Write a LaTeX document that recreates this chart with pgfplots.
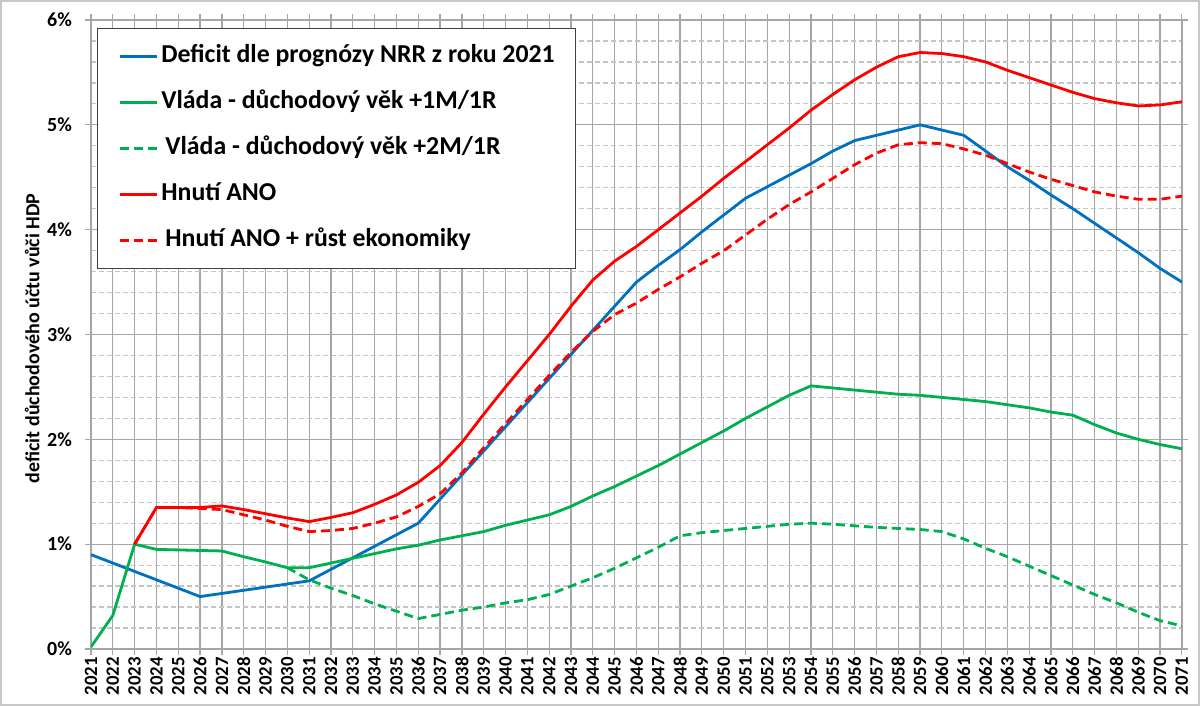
\documentclass[border=0pt]{standalone}
\usepackage{fontspec}
\setmainfont{Carlito}
\usepackage{pgfplots}
\pgfplotsset{compat=1.18}
\usepackage{pgfplotstable}
\definecolor{xblue}{RGB}{0,112,192}
\definecolor{xgreen}{RGB}{0,176,80}
\definecolor{xred}{RGB}{255,0,0}
\definecolor{gridc}{RGB}{166,166,166}
\definecolor{minc}{RGB}{196,196,196}
\definecolor{legc}{RGB}{64,64,64}
\definecolor{framec}{RGB}{200,200,200}

\pgfplotstableread{
year v
2021 0.90
2022 0.82
2023 0.74
2024 0.66
2025 0.58
2026 0.50
2027 0.53
2028 0.56
2029 0.59
2030 0.62
2031 0.65
2032 0.76
2033 0.87
2034 0.98
2035 1.09
2036 1.20
2037 1.43
2038 1.66
2039 1.89
2040 2.12
2041 2.35
2042 2.58
2043 2.81
2044 3.04
2045 3.27
2046 3.50
2047 3.66
2048 3.81
2049 3.98
2050 4.14
2051 4.30
2052 4.41
2053 4.52
2054 4.63
2055 4.75
2056 4.85
2057 4.90
2058 4.95
2059 5.00
2060 4.95
2061 4.90
2062 4.75
2063 4.60
2064 4.47
2065 4.33
2066 4.20
2067 4.06
2068 3.92
2069 3.78
2070 3.63
2071 3.50
}\nrr

\pgfplotstableread{
year v
2021 0.02
2022 0.32
2023 1.00
2024 0.95
2025 0.945
2026 0.94
2027 0.935
2028 0.88
2029 0.83
2030 0.775
2031 0.775
2032 0.82
2033 0.865
2034 0.91
2035 0.955
2036 0.99
2037 1.04
2038 1.08
2039 1.12
2040 1.18
2041 1.23
2042 1.28
2043 1.36
2044 1.46
2045 1.55
2046 1.65
2047 1.75
2048 1.86
2049 1.97
2050 2.08
2051 2.20
2052 2.31
2053 2.42
2054 2.51
2055 2.49
2056 2.47
2057 2.45
2058 2.43
2059 2.42
2060 2.40
2061 2.38
2062 2.36
2063 2.33
2064 2.30
2065 2.26
2066 2.23
2067 2.14
2068 2.06
2069 2.00
2070 1.95
2071 1.91
}\vladaA

\pgfplotstableread{
year v
2030 0.775
2031 0.66
2032 0.58
2033 0.51
2034 0.43
2035 0.36
2036 0.29
2037 0.33
2038 0.37
2039 0.40
2040 0.44
2041 0.47
2042 0.52
2043 0.60
2044 0.68
2045 0.77
2046 0.87
2047 0.97
2048 1.08
2049 1.11
2050 1.13
2051 1.15
2052 1.17
2053 1.19
2054 1.20
2055 1.19
2056 1.175
2057 1.16
2058 1.15
2059 1.14
2060 1.12
2061 1.05
2062 0.96
2063 0.88
2064 0.79
2065 0.70
2066 0.61
2067 0.52
2068 0.44
2069 0.35
2070 0.27
2071 0.22
}\vladaB

\pgfplotstableread{
year v
2023 1.00
2024 1.35
2025 1.35
2026 1.35
2027 1.365
2028 1.33
2029 1.29
2030 1.25
2031 1.215
2032 1.255
2033 1.30
2034 1.38
2035 1.47
2036 1.59
2037 1.75
2038 1.97
2039 2.24
2040 2.50
2041 2.75
2042 3.00
2043 3.27
2044 3.52
2045 3.70
2046 3.84
2047 4.00
2048 4.16
2049 4.32
2050 4.49
2051 4.65
2052 4.81
2053 4.97
2054 5.14
2055 5.29
2056 5.43
2057 5.55
2058 5.65
2059 5.69
2060 5.68
2061 5.65
2062 5.60
2063 5.52
2064 5.45
2065 5.38
2066 5.31
2067 5.25
2068 5.21
2069 5.18
2070 5.19
2071 5.22
}\anoA

\pgfplotstableread{
year v
2023 1.00
2024 1.35
2025 1.35
2026 1.34
2027 1.33
2028 1.28
2029 1.23
2030 1.17
2031 1.12
2032 1.13
2033 1.15
2034 1.20
2035 1.26
2036 1.36
2037 1.48
2038 1.68
2039 1.92
2040 2.15
2041 2.38
2042 2.61
2043 2.83
2044 3.03
2045 3.19
2046 3.30
2047 3.43
2048 3.55
2049 3.68
2050 3.80
2051 3.95
2052 4.10
2053 4.24
2054 4.36
2055 4.49
2056 4.62
2057 4.73
2058 4.81
2059 4.83
2060 4.82
2061 4.77
2062 4.71
2063 4.63
2064 4.55
2065 4.48
2066 4.42
2067 4.36
2068 4.32
2069 4.29
2070 4.29
2071 4.32
}\anoB

\begin{document}
\begin{tikzpicture}
\useasboundingbox (0,0) rectangle (600pt,353pt);
\draw[framec, line width=0.8pt] (0.6pt,0.6pt) rectangle (599.4pt,352.4pt);
\begin{axis}[
  at={(45.5pt,28.5pt)}, anchor=south west,
  scale only axis, width=545.5pt, height=314.5pt,
  xmin=2021, xmax=2071, ymin=0, ymax=6,
  xtick={2021,2022,...,2071},
  ytick={0,1,2,3,4,5,6},
  yticklabels={0\%,1\%,2\%,3\%,4\%,5\%,6\%},
  minor y tick num=4,
  xmajorgrids, ymajorgrids, yminorgrids,
  major grid style={draw=gridc, line width=0.6pt},
  minor grid style={draw=minc, line width=0.6pt, dash pattern=on 2.5pt off 1.5pt},
  axis line style={draw=gridc, line width=0.6pt},
  tick style={draw=gridc, line width=0.6pt},
  tick align=outside, major tick length=3pt, minor tick length=0pt,
  x tick label style={rotate=90, anchor=east, inner sep=1pt,
    font=\fontsize{9.4}{10}\selectfont\bfseries,
    /pgf/number format/1000 sep={}, /pgf/number format/assume math mode=true},
  y tick label style={font=\fontsize{10}{12}\selectfont\bfseries, xshift=-3pt},
  ylabel={deficit důchodového účtu vůči HDP},
  ylabel style={at={(axis description cs:-0.054,0.494)}, anchor=center,
    font=\fontsize{10}{12}\selectfont\bfseries},
  legend style={at={(0.0055,0.987)}, anchor=north west, draw=legc, line width=0.6pt,
    fill=white, inner xsep=10.5pt, inner ysep=8pt, row sep=11pt, column sep=1.5pt,
    font=\fontsize{12.9}{15}\selectfont\bfseries,
    nodes={inner sep=0pt, text height=9pt, text depth=3pt}},
  legend cell align=left,
  legend image code/.code={\draw[#1] (0pt,0pt) -- (18.5pt,0pt);},
]
\addplot[xblue, line width=1.4pt] table[x=year,y=v] {\nrr};
\addlegendentry{Deficit dle prognózy NRR z roku 2021\hspace{7pt}}
\addplot[xgreen, line width=1.4pt] table[x=year,y=v] {\vladaA};
\addlegendentry{Vláda - důchodový věk +1M/1R}
\addplot[xgreen, line width=1.4pt, dash pattern=on 4.5pt off 2.5pt] table[x=year,y=v] {\vladaB};
\addlegendentry{\hspace{2pt}Vláda - důchodový věk +2M/1R}
\addplot[xred, line width=1.4pt] table[x=year,y=v] {\anoA};
\addlegendentry{Hnutí ANO}
\addplot[xred, line width=1.4pt, dash pattern=on 4.5pt off 2.5pt] table[x=year,y=v] {\anoB};
\addlegendentry{\hspace{2pt}Hnutí ANO + růst ekonomiky}
\end{axis}
\end{tikzpicture}
\end{document}
